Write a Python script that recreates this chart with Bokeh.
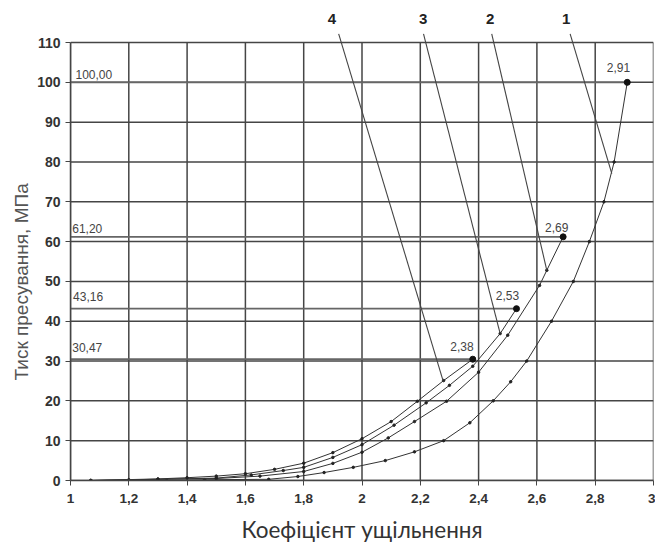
from bokeh.plotting import figure
from bokeh.models import Range1d, FixedTicker, Title
from bokeh.embed import file_html
from bokeh.resources import INLINE
from bokeh.core.properties import value

# ---- data ----
x_ticks = [1.0, 1.2, 1.4, 1.6, 1.8, 2.0, 2.2, 2.4, 2.6, 2.8, 3.0]
x_tick_labels = ["1", "1,2", "1,4", "1,6", "1,8", "2", "2,2", "2,4", "2,6", "2,8", "3"]
y_ticks = [0, 10, 20, 30, 40, 50, 60, 70, 80, 90, 100, 110]

c1_x = [1.07, 1.33, 1.46, 1.68, 1.78, 1.87, 1.97, 2.08, 2.18, 2.28, 2.37, 2.45, 2.51, 2.565, 2.65, 2.725, 2.78, 2.83, 2.865, 2.91]
c1_y = [0.0, 0.0, 0.2, 0.3, 1.0, 2.0, 3.3, 5.0, 7.2, 10.0, 14.5, 20.0, 24.8, 30.0, 40.0, 50.0, 60.0, 70.0, 80.0, 100.0]

c2_x = [1.07, 1.2, 1.5, 1.65, 1.8, 1.9, 2.0, 2.09, 2.18, 2.29, 2.40, 2.5, 2.609, 2.634, 2.69]
c2_y = [0.0, 0.2, 0.5, 1.1, 2.26, 4.3, 7.1, 10.7, 14.8, 19.9, 27.2, 36.5, 49.0, 52.8, 61.2]

c3_x = [1.07, 1.3, 1.5, 1.62, 1.73, 1.8, 1.9, 2.0, 2.11, 2.22, 2.3, 2.38, 2.474, 2.53]
c3_y = [0.0, 0.3, 0.6, 1.4, 2.5, 3.3, 5.8, 9.0, 13.9, 19.5, 23.9, 28.7, 36.9, 43.16]

c4_x = [1.07, 1.3, 1.4, 1.5, 1.6, 1.7, 1.8, 1.9, 2.0, 2.1, 2.19, 2.28, 2.38]
c4_y = [0.0, 0.4, 0.7, 1.1, 1.7, 2.8, 4.35, 7.0, 10.5, 14.8, 19.9, 25.1, 30.47]

end_x = [2.91, 2.69, 2.53, 2.38]
end_y = [100.0, 61.2, 43.16, 30.47]
end_labels = ["2,91", "2,69", "2,53", "2,38"]
end_label_x = [2.88, 2.668, 2.499, 2.343]
end_label_y = [103.8, 63.6, 46.5, 33.7]

level_labels = ["100,00", "61,20", "43,16", "30,47"]
level_label_x = [1.017, 1.006, 1.009, 1.006]
level_label_y = [102.0, 63.2, 46.1, 33.5]

curve_names = ["1", "2", "3", "4"]
name_x = [2.70, 2.44, 2.21, 1.897]
name_y = [116.0, 116.0, 116.0, 116.0]
leader_x0 = [2.714, 2.445, 2.211, 1.92]
leader_y0 = [112.2, 112.2, 112.2, 112.2]
leader_x1 = [2.857, 2.634, 2.474, 2.278]
leader_y1 = [77.1, 52.8, 36.9, 25.1]

# ---- figure ----
p = figure(width=655, height=546, output_backend="svg", toolbar_location=None,
           x_range=Range1d(1, 3), y_range=Range1d(0, 117.8),
           min_border_left=70, min_border_right=2, min_border_top=11, min_border_bottom=66)
p.outline_line_color = None
p.xgrid.visible = False
p.ygrid.visible = False
p.background_fill_color = "white"

grid_col = "#454545"
# grid from ticks
p.segment(x0=x_ticks, y0=[y_ticks[0]] * len(x_ticks), x1=x_ticks, y1=[y_ticks[-1]] * len(x_ticks),
          line_color=grid_col, line_width=1.5)
p.segment(x0=[x_ticks[0]] * len(y_ticks), y0=y_ticks, x1=[x_ticks[-1]] * len(y_ticks), y1=y_ticks,
          line_color=grid_col, line_width=1.5)

# level lines
p.segment(x0=[x_ticks[0]] * len(end_x), y0=end_y, x1=end_x, y1=end_y, line_color="#666666", line_width=1.7)

# curves
curve_col = "#333333"
for cx, cy in [(c1_x, c1_y), (c2_x, c2_y), (c3_x, c3_y), (c4_x, c4_y)]:
    p.line(cx, cy, line_color=curve_col, line_width=1.0)
    p.scatter(cx, cy, size=2.5, color="#222222")
p.scatter(end_x, end_y, size=6, color="#111111")

# leaders
p.segment(x0=leader_x0, y0=leader_y0, x1=leader_x1, y1=leader_y1, line_color="#444444", line_width=1.1)
p.text(x=name_x, y=name_y, text=curve_names, text_font=value("Liberation Sans"), text_font_style="bold",
       text_font_size="15px", text_align="center", text_baseline="middle", text_color="#222222")

p.text(x=end_label_x, y=end_label_y, text=end_labels, text_font=value("Liberation Sans"),
       text_font_size="12px", text_align="center", text_baseline="middle", text_color="#444444")
p.text(x=level_label_x, y=level_label_y, text=level_labels, text_font=value("Liberation Sans"),
       text_font_size="12px", text_align="left", text_baseline="middle", text_color="#444444")

# axes
p.xaxis.ticker = FixedTicker(ticks=x_ticks)
p.xaxis.major_label_overrides = {t: l for t, l in zip(x_ticks, x_tick_labels)}
p.yaxis.ticker = FixedTicker(ticks=y_ticks)
p.yaxis.bounds = (y_ticks[0], y_ticks[-1])
for ax in (p.xaxis, p.yaxis):
    ax.axis_line_color = grid_col
    ax.axis_line_width = 1.5
    ax.major_tick_line_color = grid_col
    ax.major_tick_in = 0
    ax.major_tick_out = 5
    ax.minor_tick_line_color = None
    ax.major_label_text_font = "Liberation Sans"
    ax.major_label_text_font_style = "bold"
    ax.major_label_text_color = "#333333"
    ax.axis_label_text_font_style = "normal"
p.xaxis.major_label_text_font_size = "13.5px"
p.yaxis.major_label_text_font_size = "14px"

p.xaxis.major_label_standoff = 8
p.yaxis.major_label_standoff = 5
p.xaxis.axis_label = "Коефіцієнт ущільнення"
p.xaxis.axis_label_text_font = "Lato"
p.xaxis.axis_label_text_font_size = "22.5px"
p.xaxis.axis_label_text_color = "#333333"
p.xaxis.axis_label_standoff = 10

ytitle = Title(text="Тиск пресування, МПа", align="left", offset=100, standoff=6,
               text_font="Liberation Sans", text_font_size="19px", text_font_style="normal",
               text_color="#555555")
p.add_layout(ytitle, "left")

open("out.html", "w").write(file_html(p, INLINE))
